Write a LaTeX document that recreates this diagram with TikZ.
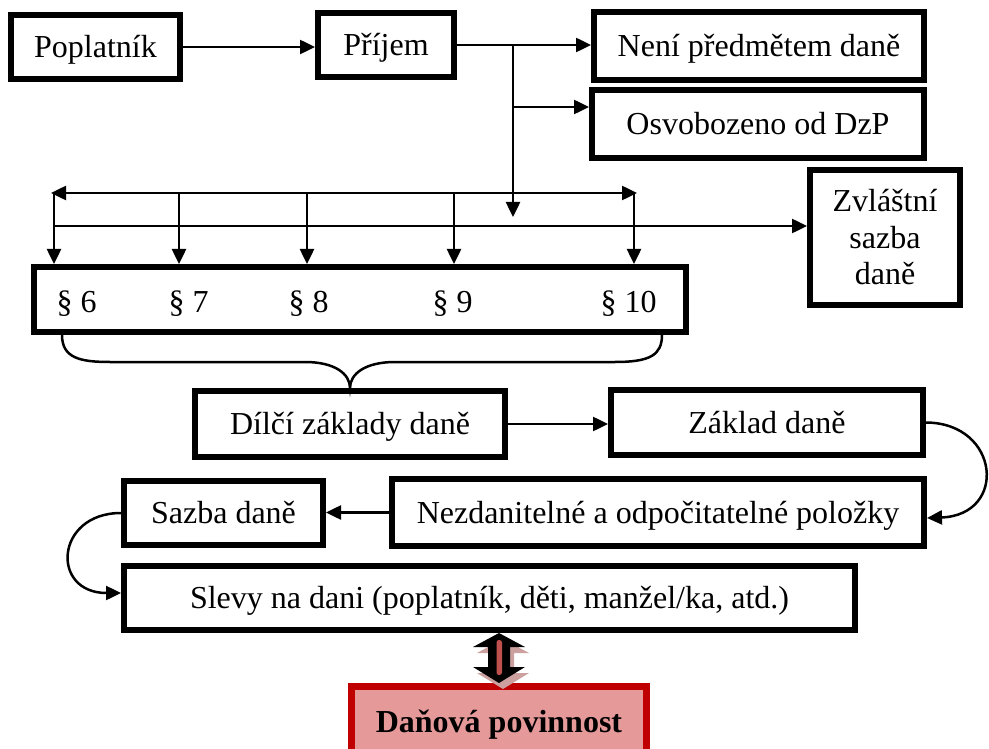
\documentclass[tikz,border=0pt]{standalone}
\usepackage{fontspec}
\setmainfont{Liberation Serif}
\usetikzlibrary{arrows.meta}
\definecolor{boxred}{RGB}{192,0,0}
\definecolor{boxpink}{RGB}{229,153,153}
\definecolor{barred}{RGB}{192,80,77}
\definecolor{shadowpink}{RGB}{205,160,160}
\begin{document}
\begin{tikzpicture}[x=1pt,y=-1pt,
  txt/.style={font=\fontsize{32}{36.5}\selectfont},
  frame/.style={txt, draw=black, line width=6pt, fill=white, inner sep=0pt, align=center},
  box/.style={frame, text height=28.5pt, text depth=6.9pt},
  para/.style={txt, anchor=base, inner sep=0pt},
  conn/.style={line width=2.5pt, -{Triangle[length=15pt,width=14pt]}},
  both/.style={line width=2.5pt, {Triangle[length=15pt,width=14pt]}-{Triangle[length=15pt,width=14pt]}},
  plain/.style={line width=2.5pt},
  result/.style={draw=boxred, line width=7pt, fill=boxpink, inner sep=0pt,
    text height=28.5pt, text depth=6.9pt, font=\fontsize{32}{36.5}\selectfont\bfseries}
]
\useasboundingbox (0,0) rectangle (989,749);
\clip (0,0) rectangle (989,749);

% boxes
\node[box, minimum width=169pt, minimum height=64pt] (pop)  at (95.5,47)  {Poplatník};
\node[box, minimum width=136pt, minimum height=64pt] (prij) at (386,45)   {Příjem};
\node[box, minimum width=330pt, minimum height=68pt] (neni) at (759,46)   {Není předmětem daně};
\node[box, minimum width=332pt, minimum height=68pt] (osv)  at (758,124)  {Osvobozeno od DzP};
\node[frame, minimum width=150pt, minimum height=135pt] (zvl) at (885,237.5) {Zvláštní\\sazba\\daně};
\node[box, minimum width=652pt, minimum height=65pt] (par)  at (360,299.5) {};
\node[box, minimum width=310pt, minimum height=66pt] (dil)  at (350,424)  {Dílčí základy daně};
\node[box, minimum width=312pt, minimum height=65pt] (zak)  at (767,422.5) {Základ daně};
\node[box, minimum width=532pt, minimum height=67pt] (nez)  at (658,512.5) {Nezdanitelné a odpočitatelné položky};
\node[box, minimum width=199pt, minimum height=64pt] (saz)  at (223.5,513) {Sazba daně};
\node[box, minimum width=731pt, minimum height=64pt] (sle)  at (489.5,598) {Slevy na dani (poplatník, děti, manžel/ka, atd.)};
\node[result, minimum width=295pt, minimum height=70pt] (dan) at (499,721.5) {Daňová povinnost};

% paragraph labels inside the wide box
\node[para] (p6)  at (76.5,312)  {§ 6};
\node[para] (p7)  at (188.5,312) {§ 7};
\node[para] (p8)  at (308.5,312) {§ 8};
\node[para] (p9)  at (452.5,312) {§ 9};
\node[para] (p10) at (628.5,312) {§ 10};

% branching from the income box
\coordinate (b1) at (prij.east -| 513,0);
\coordinate (b2) at (513,107);
\coordinate (b3) at (513,217);
\draw[conn] (pop.east) -- (pop.east -| prij.west);
\draw[conn] (prij.east) -- (prij.east -| neni.west);
\draw[conn] (b1) -- (b3);
\draw[conn] (b2) -- (b2 -| osv.west);

% distribution lines above the paragraph box
\coordinate (hl) at (51,193);
\coordinate (hr) at (637,193);
\coordinate (t6) at (54,193);
\coordinate (t7) at (179,193);
\coordinate (t8) at (307,193);
\coordinate (t9) at (454,193);
\coordinate (t10) at (634,193);
\coordinate (m6) at (54,226);
\draw[both] (hl) -- (hr);
\foreach \c in {t6,t7,t8,t9,t10} \draw[conn] (\c) -- (\c |- par.north);
\draw[conn] (m6) -- (m6 -| zvl.west);

% brace collecting the partial bases
\draw[plain] (62,335) .. controls (62,358) and (80,362) .. (110,362) -- (305,362)
  .. controls (335,362) and (350,374) .. (dil.north)
  .. controls (350,374) and (365,362) .. (395,362) -- (615,362)
  .. controls (650,362) and (662,355) .. (662,335);

% remaining flow
\draw[conn] (dil.east) -- (dil.east -| zak.west);
\draw[conn] (zak.east) .. controls (1000,423) and (1008,515) .. ([yshift=-5.5pt]nez.east);
\draw[conn] (nez.west) -- (nez.west -| saz.east);
\draw[conn] (saz.west) .. controls (55,513) and (50,593) .. ([yshift=5pt]sle.west);

% block double arrow to the tax liability
\begin{scope}[shift={(dan.north)}]
  \fill[shadowpink, shift={(4,6)}] (0,0) -- (-26,-16) -- (-11,-16) -- (-11,-36) -- (-26,-36)
    -- (0,-50) -- (26,-36) -- (11,-36) -- (11,-16) -- (26,-16) -- cycle;
  \fill[black] (0,0) -- (-26,-16) -- (-11,-16) -- (-11,-36) -- (-26,-36)
    -- (0,-50) -- (26,-36) -- (11,-36) -- (11,-16) -- (26,-16) -- cycle;
  \fill[barred, rounded corners=2.5pt] (-2.5,-8) rectangle (3,-43);
\end{scope}
\end{tikzpicture}
\end{document}
